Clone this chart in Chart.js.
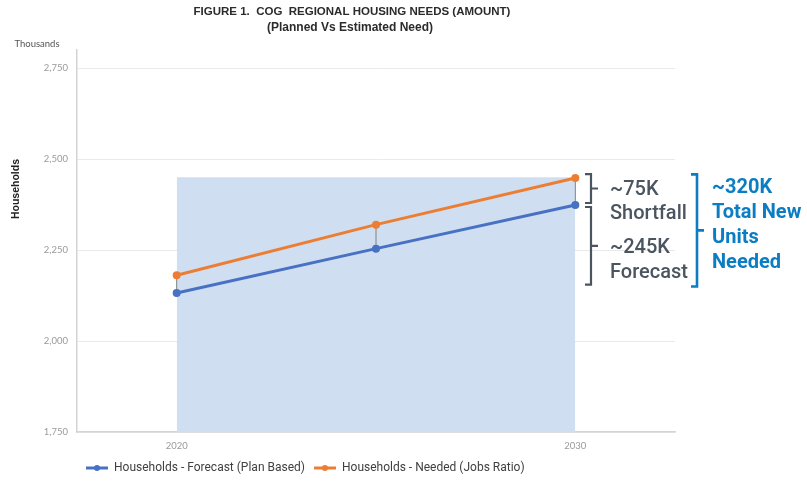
<!DOCTYPE html>
<html>
<head>
<meta charset="utf-8">
<script src="https://cdn.jsdelivr.net/npm/chart.js@4"></script>
<style>
  body { margin: 0; background: #fff; }
  #wrap { width: 807px; height: 484px; position: relative; }
</style>
</head>
<body>
<div id="wrap"><canvas id="myChart"></canvas></div>
<script>
const years = [2020, 2025, 2030];
const forecast = [2132, 2254, 2374];
const needed = [2181, 2320, 2448];
const shadeYears = [2020, 2030];
const shadeTop = 2450;
const yTicks = [1750, 2000, 2250, 2500, 2750];
const xTicks = [2020, 2030];
const forecastLow = 2155;   // bottom of the "~245K Forecast" bracket
const totalLow = 2150;      // bottom of the "~320K Total New Units Needed" bracket

const blue = 'rgb(72, 113, 196)';
const orange = 'rgb(236, 126, 52)';

const ctx = document.getElementById('myChart');

// legend marker: short line with a dot in the middle
const legendMark = (color) => {
    const c = document.createElement('canvas');
    c.width = 22; c.height = 8;
    const g = c.getContext('2d');
    g.strokeStyle = color; g.fillStyle = color; g.lineWidth = 3;
    g.beginPath(); g.moveTo(0, 4); g.lineTo(22, 4); g.stroke();
    g.beginPath(); g.arc(11, 4, 3, 0, Math.PI * 2); g.fill();
    return c;
};

const brace = (g, x, top, bottom, color, width) => {
    const mid = (top + bottom) / 2;
    g.strokeStyle = color; g.lineWidth = width;
    g.beginPath();
    g.moveTo(x - 6, top); g.lineTo(x, top); g.lineTo(x, bottom); g.lineTo(x - 6, bottom);
    g.moveTo(x, mid); g.lineTo(x + 7, mid);
    g.stroke();
    return mid;
};

const notes = {
    id: 'notes',
    afterDatasetDraw(chart, args) {
        if (args.index !== 2) return;
        // thin grey connectors between the two series
        const g = chart.ctx;
        const a = chart.getDatasetMeta(0).data, b = chart.getDatasetMeta(1).data;
        g.save();
        g.strokeStyle = '#808080'; g.lineWidth = 1;
        a.forEach((p, i) => {
            g.beginPath(); g.moveTo(p.x, p.y); g.lineTo(b[i].x, b[i].y); g.stroke();
        });
        g.restore();
    },
    afterDraw(chart) {
        const g = chart.ctx, y = chart.scales.y;
        g.save();
        g.textBaseline = 'middle';

        // title
        g.fillStyle = '#2b2b2b'; g.textAlign = 'center';
        g.font = 'bold 11.5px "Liberation Sans"';
        g.fillText('FIGURE 1.  COG  REGIONAL HOUSING NEEDS (AMOUNT)', 352, 12);
        g.font = 'bold 12px "Liberation Sans"';
        g.fillText('(Planned Vs Estimated Need)', 350, 28);

        // axis captions
        g.fillStyle = '#555'; g.font = '9.5px Lato';
        g.fillText('Thousands', 37, 44);
        g.save();
        g.translate(16, 189); g.rotate(-Math.PI / 2);
        g.fillStyle = '#222'; g.font = 'bold 10.5px "Liberation Sans"';
        g.fillText('Households', 0, 0);
        g.restore();

        // right-hand brackets and notes
        const grey = '#4a5560', note = '#0b7dc3';
        const m1 = brace(g, 591, y.getPixelForValue(needed[2]) - 4, y.getPixelForValue(forecast[2]) - 2, grey, 2.2);
        const m2 = brace(g, 591, y.getPixelForValue(forecast[2]) + 2, y.getPixelForValue(forecastLow), grey, 2.2);
        const top3 = y.getPixelForValue(shadeTop) - 3;
        brace(g, 697, top3, y.getPixelForValue(totalLow), note, 2.6);

        g.textAlign = 'left';
        g.fillStyle = grey; g.font = '500 20px Roboto';
        g.fillText('~75K', 610, m1 + 1);
        g.fillText('Shortfall', 610, m1 + 25);
        g.fillText('~245K', 610, m2 + 2);
        g.fillText('Forecast', 610, m2 + 27);

        g.fillStyle = note; g.font = 'bold 20px Roboto';
        ['~320K', 'Total New', 'Units', 'Needed'].forEach((t, i) => {
            g.fillText(t, 712, top3 + 14 + i * 25);
        });
        g.restore();
    }
};

new Chart(ctx, {
    type: 'line',
    data: {
        datasets: [
            {
                label: 'Households - Forecast (Plan Based)',
                data: years.map((x, i) => ({ x, y: forecast[i] })),
                borderColor: blue,
                backgroundColor: blue,
                borderWidth: 3,
                pointRadius: 2.5,
                order: 1,
            },
            {
                label: 'Households - Needed (Jobs Ratio)',
                data: years.map((x, i) => ({ x, y: needed[i] })),
                borderColor: orange,
                backgroundColor: orange,
                borderWidth: 3,
                pointRadius: 2.5,
                order: 0,
            },
            {
                label: 'shade',
                data: shadeYears.map((x) => ({ x, y: shadeTop })),
                borderWidth: 0,
                pointRadius: 0,
                fill: 'start',
                backgroundColor: 'rgb(207, 223, 241)',
                order: 5,
            },
        ],
    },
    options: {
        responsive: true,
        maintainAspectRatio: false,
        animation: false,
        layout: { padding: { top: 50, right: 132, left: 0, bottom: 0 } },
        scales: {
            x: {
                type: 'linear',
                min: 2017.5,
                max: 2032.5,
                afterBuildTicks: (s) => { s.ticks = xTicks.map((v) => ({ value: v })); },
                afterFit: (s) => { s.height = 21; },
                grid: { display: false, drawTicks: false },
                border: { color: '#d4d4d4', width: 1.5 },
                ticks: { color: '#9a9a9a', font: { family: 'Lato', size: 9.5 }, padding: 8, callback: (v) => String(v) },
            },
            y: {
                min: 1750,
                max: 2800,
                afterBuildTicks: (s) => { s.ticks = yTicks.map((v) => ({ value: v })); },
                afterFit: (s) => { s.width = 77; },
                grid: { color: '#e9e9e9', drawTicks: false },
                border: { color: '#d4d4d4', width: 1.5 },
                ticks: { color: '#9a9a9a', font: { family: 'Lato', size: 9.5 }, padding: 9 },
            },
        },
        plugins: {
            title: { display: false },
            tooltip: { enabled: false },
            legend: {
                position: 'bottom',
                align: 'start',
                fullSize: false,
                labels: {
                    usePointStyle: true,
                    pointStyleWidth: 22,
                    padding: 9,
                    color: '#404040',
                    font: { family: 'Roboto', size: 12 },
                    filter: (item) => item.datasetIndex !== 2,
                    sort: (a, b) => a.datasetIndex - b.datasetIndex,
                    generateLabels: (chart) => Chart.defaults.plugins.legend.labels.generateLabels(chart)
                        .map((it) => ({ ...it, pointStyle: legendMark(it.strokeStyle) })),
                },
            },
        },
    },
    plugins: [notes],
});
</script>
</body>
</html>
